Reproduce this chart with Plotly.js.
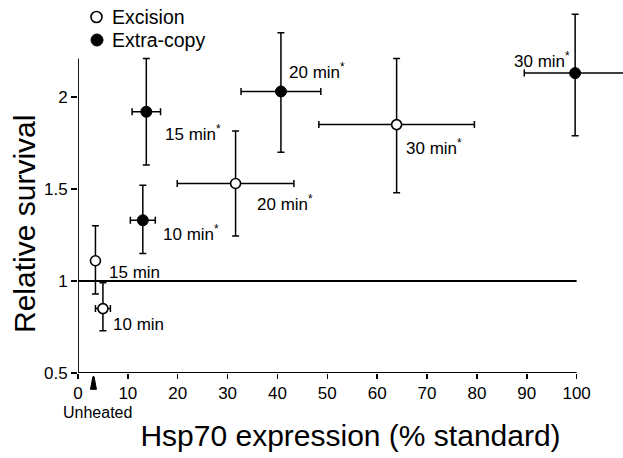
<!DOCTYPE html>
<html>
<head>
<meta charset="utf-8">
<script src="https://cdn.plot.ly/plotly-3.0.1.min.js"></script>
<style>html,body{margin:0;padding:0;background:#fff;}#chart{width:623px;height:458px;}</style>
</head>
<body>
<div id="chart"></div>
<script>
// Excision (open circles)
const excLabels = ["10 min", "15 min", "20 min<sup>*</sup>", "30 min<sup>*</sup>"];
const excX = [5.0, 3.5, 31.6, 63.9];
const excY = [0.85, 1.11, 1.53, 1.85];
const excXErr = [1.5, 0, 11.7, 15.6];
const excYErrPlus = [0.14, 0.19, 0.285, 0.36];
const excYErrMinus = [0.12, 0.18, 0.285, 0.37];

// Extra-copy (filled circles)
const extLabels = ["10 min<sup>*</sup>", "15 min<sup>*</sup>", "20 min<sup>*</sup>", "30 min<sup>*</sup>"];
const extX = [13.0, 13.7, 40.7, 99.7];
const extY = [1.33, 1.92, 2.03, 2.13];
const extXErr = [2.5, 2.85, 8.0, 10.2];
const extYErrPlus = [0.19, 0.29, 0.32, 0.32];
const extYErrMinus = [0.18, 0.29, 0.33, 0.34];

const seriesNames = ["Excision", "Extra-copy"];
const xTickVals = [0, 10, 20, 30, 40, 50, 60, 70, 80, 90, 100];
const yTickVals = [0.5, 1, 1.5, 2];
const yTickText = ["0.5", "1", "1.5", "2"];
const referenceY = 1;
const unheatedX = 3.1;
const xTitle = "Hsp70 expression (% standard)";
const yTitle = "Relative survival";

const FONT = '"Liberation Sans", Arial, Helvetica, sans-serif';
const errStyle = {thickness: 1.5, width: 3.5, color: '#000'};

const traces = [
  {
    name: seriesNames[0], type: 'scatter', mode: 'markers', showlegend: false,
    x: excX, y: excY,
    error_x: Object.assign({type: 'data', array: excXErr, symmetric: true}, errStyle),
    error_y: Object.assign({type: 'data', array: excYErrPlus, arrayminus: excYErrMinus, symmetric: false}, errStyle),
    marker: {symbol: 'circle', size: 10, color: '#fff', line: {color: '#000', width: 1.6}},
    cliponaxis: false
  },
  {
    name: seriesNames[1], type: 'scatter', mode: 'markers', showlegend: false,
    x: extX, y: extY,
    error_x: Object.assign({type: 'data', array: extXErr, symmetric: true}, errStyle),
    error_y: Object.assign({type: 'data', array: extYErrPlus, arrayminus: extYErrMinus, symmetric: false}, errStyle),
    marker: {symbol: 'circle', size: 11, color: '#000', line: {color: '#000', width: 1}},
    cliponaxis: false
  }
];

// label offsets (pixels) relative to each point
const excOffsets = [[8, -16, 'left'], [12, -12, 'left'], [19, -19, 'left'], [7, -22, 'left']];
const extOffsets = [[18, -13, 'left'], [17, -21, 'left'], [6, 21, 'left'], [-3, 13, 'right']];
const LABEL_SIZE = 17;

const annotations = [];
excLabels.forEach((t, i) => annotations.push({
  x: excX[i], y: excY[i], xref: 'x', yref: 'y', text: t, showarrow: false,
  xanchor: excOffsets[i][2], yanchor: 'middle', xshift: excOffsets[i][0], yshift: excOffsets[i][1],
  font: {family: FONT, size: LABEL_SIZE, color: '#000'}
}));
extLabels.forEach((t, i) => annotations.push({
  x: extX[i], y: extY[i], xref: 'x', yref: 'y', text: t, showarrow: false,
  xanchor: extOffsets[i][2], yanchor: 'middle', xshift: extOffsets[i][0], yshift: extOffsets[i][1],
  font: {family: FONT, size: LABEL_SIZE, color: '#000'}
}));
// "Unheated" label under the arrow
annotations.push({
  x: 0, y: 0, xref: 'paper', yref: 'paper', text: 'Unheated', showarrow: false,
  xanchor: 'left', yanchor: 'middle', xshift: -17, yshift: -39,
  font: {family: FONT, size: 16, color: '#000'}
});
// y axis title
annotations.push({
  x: 0, y: 1, xref: 'paper', yref: 'paper', text: yTitle, showarrow: false, textangle: -90,
  xanchor: 'center', yanchor: 'middle', xshift: -54, yshift: -214,
  font: {family: FONT, size: 30, color: '#000'}
});
// legend text
const legendRowY = [-7, -30];
seriesNames.forEach((n, i) => annotations.push({
  x: 0, y: 1, xref: 'paper', yref: 'paper', text: n, showarrow: false,
  xanchor: 'left', yanchor: 'middle', xshift: 33, yshift: legendRowY[i],
  borderpad: 0,
  font: {family: FONT, size: 19.5, color: '#000'}
}));

const shapes = [
  // y axis line
  {type: 'line', xref: 'x', yref: 'y', x0: 0, x1: 0, y0: 0.5, y1: 2.21, line: {color: '#000', width: 1.8}},
  // x axis line
  {type: 'line', xref: 'x', yref: 'y', x0: 0, x1: 100, y0: 0.5, y1: 0.5, line: {color: '#000', width: 1.8}},
  // reference line at relative survival 1
  {type: 'line', xref: 'x', yref: 'y', x0: 0, x1: 100, y0: referenceY, y1: referenceY, line: {color: '#000', width: 2}},
  // unheated arrow
  {type: 'path', xref: 'x', yref: 'paper',
   path: `M ${unheatedX - 0.6},-0.045 L ${unheatedX - 0.12},-0.010 L ${unheatedX + 0.12},-0.010 L ${unheatedX + 0.6},-0.045 Z`,
   fillcolor: '#000', line: {color: '#000', width: 1}},
  // legend symbols
  {type: 'circle', xref: 'paper', yref: 'paper', xsizemode: 'pixel', ysizemode: 'pixel',
   xanchor: 0, yanchor: 1, x0: 13, x1: 24, y0: -12.5, y1: -1.5,
   fillcolor: '#fff', line: {color: '#000', width: 1.6}},
  {type: 'circle', xref: 'paper', yref: 'paper', xsizemode: 'pixel', ysizemode: 'pixel',
   xanchor: 0, yanchor: 1, x0: 13, x1: 25, y0: -36, y1: -24,
   fillcolor: '#000', line: {color: '#000', width: 1}}
];

const layout = {
  width: 623, height: 458,
  margin: {l: 78, r: 0, t: 10, b: 85},
  paper_bgcolor: '#fff', plot_bgcolor: '#fff',
  font: {family: FONT, color: '#000'},
  showlegend: false,
  xaxis: {
    range: [0, 109.3], tickvals: xTickVals, ticktext: xTickVals.map(String),
    ticks: 'outside', ticklen: 5, tickwidth: 1.5, tickcolor: '#000',
    showline: false, showgrid: false, zeroline: false,
    tickfont: {family: FONT, size: 17, color: '#000'},
    title: {text: xTitle, font: {family: FONT, size: 30, color: '#000'}, standoff: 22},
    automargin: false
  },
  yaxis: {
    range: [0.5, 2.473], tickvals: yTickVals, ticktext: yTickText,
    ticks: 'outside', ticklen: 6, tickwidth: 1.5, tickcolor: '#000',
    showline: false, showgrid: false, zeroline: false,
    tickfont: {family: FONT, size: 17, color: '#000'},
    automargin: false
  },
  annotations: annotations,
  shapes: shapes
};

Plotly.newPlot('chart', traces, layout, {displayModeBar: false, staticPlot: true});
</script>
</body>
</html>
